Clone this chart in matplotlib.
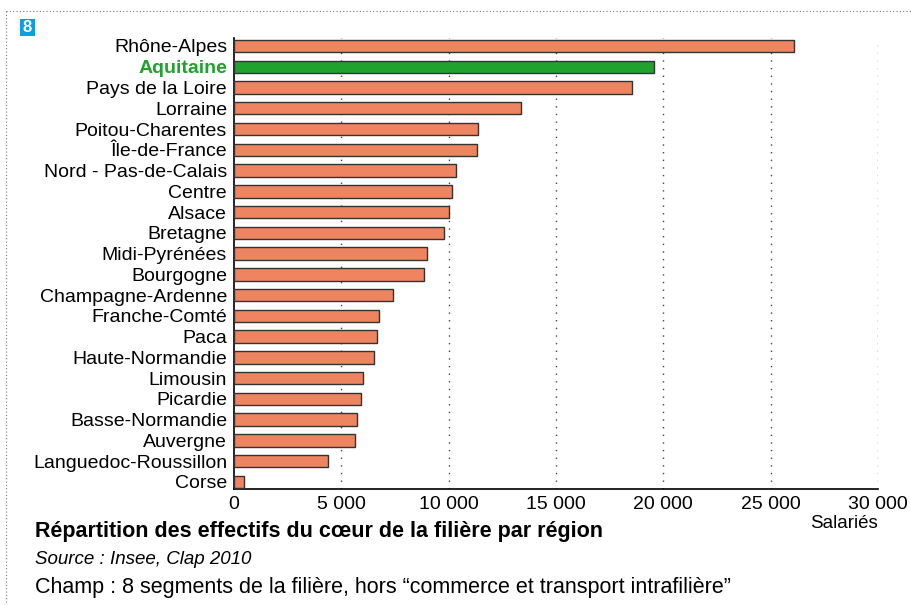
import matplotlib.pyplot as plt
from matplotlib.patches import Rectangle
from matplotlib.lines import Line2D

# Effectifs du coeur de la filière par région (salariés)
regions = ["Rhône-Alpes", "Aquitaine", "Pays de la Loire", "Lorraine", "Poitou-Charentes",
           "Île-de-France", "Nord - Pas-de-Calais", "Centre", "Alsace", "Bretagne",
           "Midi-Pyrénées", "Bourgogne", "Champagne-Ardenne", "Franche-Comté", "Paca",
           "Haute-Normandie", "Limousin", "Picardie", "Basse-Normandie", "Auvergne",
           "Languedoc-Roussillon", "Corse"]
salaries = [26100, 19550, 18550, 13350, 11350, 11300, 10350, 10150, 10000, 9800,
            9000, 8850, 7400, 6750, 6650, 6500, 6000, 5900, 5750, 5650, 4400, 450]
highlight = "Aquitaine"
xticks = [0, 5000, 10000, 15000, 20000, 25000, 30000]
xtick_labels = ["0", "5 000", "10 000", "15 000", "20 000", "25 000", "30 000"]

plt.rcParams['font.family'] = ['Liberation Sans', 'DejaVu Sans']

orange = "#ef8461"
green = "#1fa22e"

fig = plt.figure(figsize=(9.11, 6.05), dpi=100)
ax = fig.add_axes([234 / 911, 1 - 489 / 605, (878 - 234) / 911, (489 - 38) / 605])

colors = [green if r == highlight else orange for r in regions]
ypos = list(range(len(regions)))
ax.barh(ypos, salaries, height=0.6, color=colors, edgecolor="#333333", linewidth=1, zorder=3)

ax.set_xlim(0, 30000)
ax.set_ylim(21.34, -0.385)
ax.set_yticks(ypos)
ax.set_yticklabels(regions, fontsize=14)
for lab in ax.get_yticklabels():
    if lab.get_text() == highlight:
        lab.set_color(green)
        lab.set_fontweight("bold")
ax.set_xticks(xticks)
ax.set_xticklabels(xtick_labels, fontsize=14)
ax.tick_params(axis="both", length=0, pad=5)
ax.tick_params(axis="x", pad=5)

for x in xticks[1:]:
    ax.axvline(x, color="#444444", linestyle=(0, (1, 4.5)), linewidth=1, zorder=1)

for s in ["top", "right"]:
    ax.spines[s].set_visible(False)
ax.spines["left"].set_linewidth(1.2)
ax.spines["bottom"].set_linewidth(1.2)

fig.text(878 / 911, 1 - 523 / 605, "Salariés", ha="right", va="center", fontsize=13.5)

fig.text(35 / 911, 1 - 532 / 605, "Répartition des effectifs du cœur de la filière par région",
         ha="left", va="center", fontsize=15.5, fontweight="bold")
fig.text(35 / 911, 1 - 560 / 605, "Source : Insee, Clap 2010", ha="left", va="center",
         fontsize=13.5, style="italic")
fig.text(35 / 911, 1 - 588 / 605, "Champ : 8 segments de la filière, hors “commerce et transport intrafilière”",
         ha="left", va="center", fontsize=15.5)

# cadre pointillé
fig.add_artist(Line2D([6 / 911, 1], [1 - 11 / 605, 1 - 11 / 605], transform=fig.transFigure,
                      color="#777777", linestyle=(0, (1, 2)), linewidth=0.8))
fig.add_artist(Line2D([6 / 911, 6 / 911], [1 - 11 / 605, 0], transform=fig.transFigure,
                      color="#777777", linestyle=(0, (1, 2)), linewidth=0.8))

# numéro du graphique
fig.add_artist(Rectangle((20 / 911, 1 - 36 / 605), 15 / 911, 17 / 605, transform=fig.transFigure,
                         facecolor="#0c9ee0", edgecolor="none"))
fig.text(27.5 / 911, 1 - 27.5 / 605, "8", ha="center", va="center", color="white",
         fontsize=12, fontweight="bold")

fig.savefig("out.png", dpi=100)
